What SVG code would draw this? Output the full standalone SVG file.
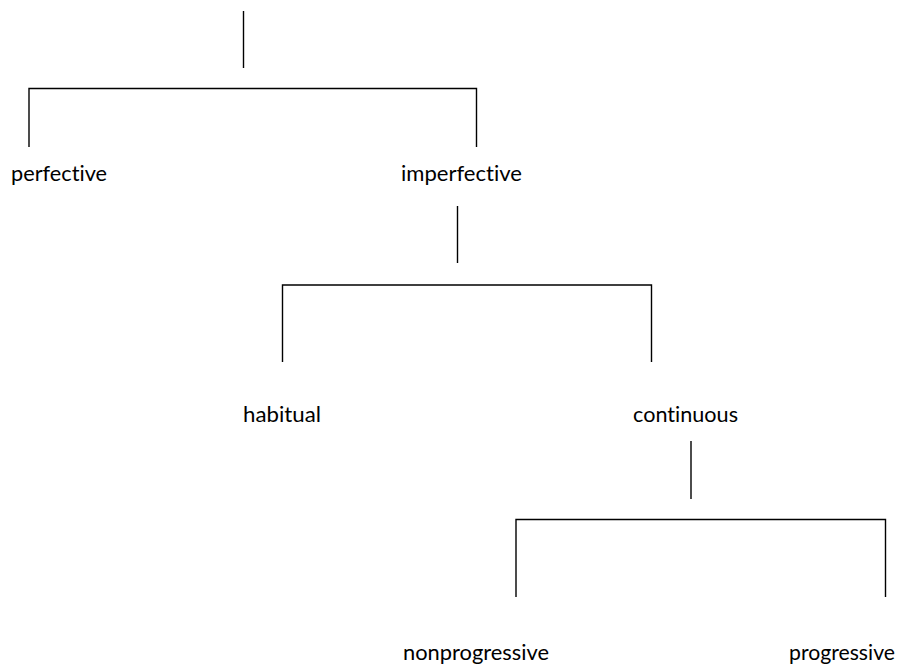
<svg xmlns="http://www.w3.org/2000/svg" width="901" height="665" viewBox="0 0 901 665">
<style>
.c{fill:none;stroke:#000;stroke-width:1.4}
.t{font-family:Lato,"Open Sans","Liberation Sans",sans-serif;font-size:21.5px;fill:#000;font-variant-ligatures:none;font-feature-settings:"liga" 0,"clig" 0}
</style>
<rect width="901" height="665" fill="#fff"/>
<g id="connectors">
<path class="c" d="M243.5,11V68"/>
<path class="c" d="M29,147V88.5H476.5V147"/>
<path class="c" d="M457.5,206V263"/>
<path class="c" d="M282.5,362V285H651.5V362"/>
<path class="c" d="M691,441V499"/>
<path class="c" d="M516,597V519.5H885.5V597"/>
</g>
<g id="perfective"><text class="t" x="11" y="181" textLength="96" lengthAdjust="spacingAndGlyphs">perfective</text></g>
<g id="imperfective"><text class="t" x="401" y="181" textLength="121" lengthAdjust="spacingAndGlyphs">imperfective</text></g>
<g id="habitual"><text class="t" x="243" y="422" textLength="78" lengthAdjust="spacingAndGlyphs">habitual</text></g>
<g id="continuous"><text class="t" x="633" y="422" textLength="105" lengthAdjust="spacingAndGlyphs">continuous</text></g>
<g id="nonprogressive"><text class="t" x="403" y="660" textLength="146" lengthAdjust="spacingAndGlyphs">nonprogressive</text></g>
<g id="progressive"><text class="t" x="789" y="660" textLength="106" lengthAdjust="spacingAndGlyphs">progressive</text></g>
</svg>
